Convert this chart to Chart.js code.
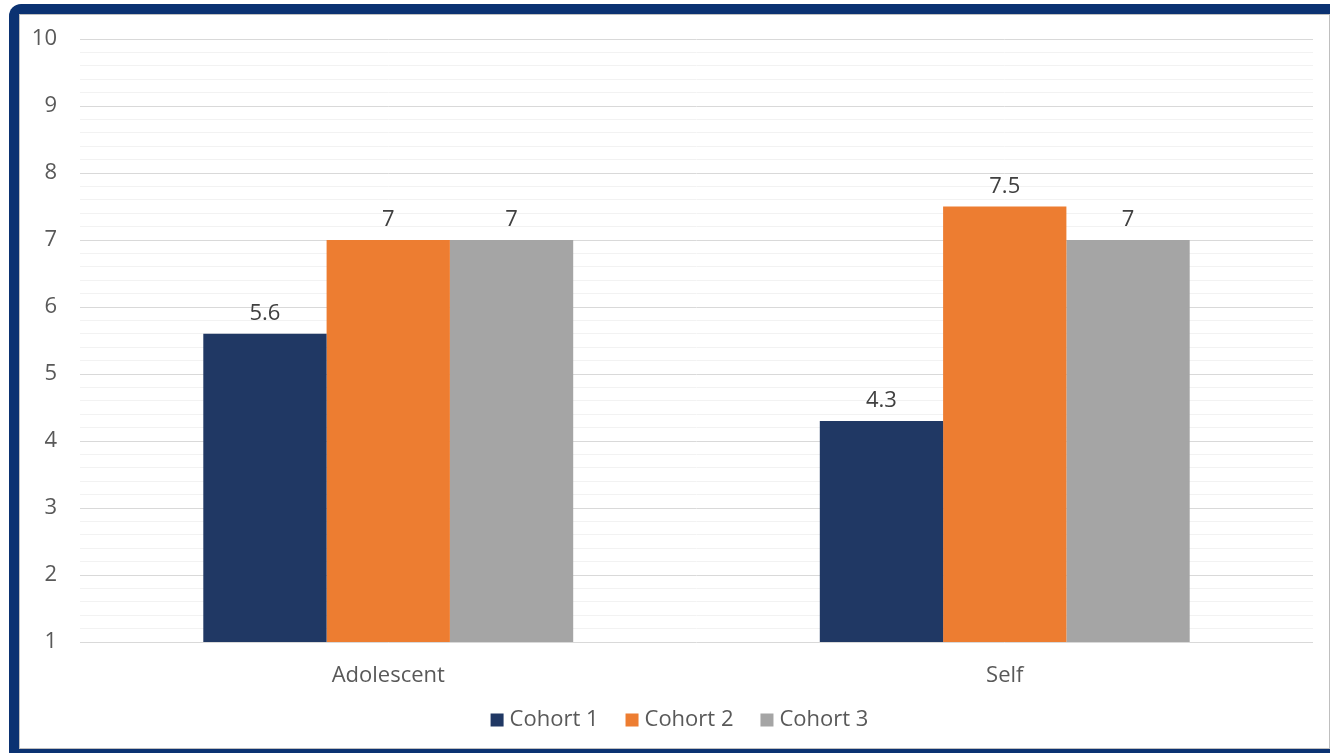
<!DOCTYPE html>
<html>
<head>
<meta charset="utf-8">
<script src="https://cdn.jsdelivr.net/npm/chart.js@4/dist/chart.umd.min.js"></script>
<style>
  html, body { margin: 0; padding: 0; background: #ffffff; width: 1330px; height: 753px; overflow: hidden; }
  #frame { position: absolute; left: 9px; top: 4px; width: 1340px; height: 760px; background: #0b3272; border-radius: 12px; }
  #panel { position: absolute; left: 19px; top: 14px; width: 1309px; height: 733px; background: #ffffff; border: 1px solid #bfbfbf; }
  #wrap { position: absolute; left: 20px; top: 15px; width: 1309px; height: 733px; }
</style>
</head>
<body>
<div id="frame"></div>
<div id="panel"></div>
<div id="wrap"><canvas id="c" width="1309" height="733"></canvas></div>
<script>
const categories = ["Adolescent", "Self"];
const seriesNames = ["Cohort 1", "Cohort 2", "Cohort 3"];
const cohort1 = [5.6, 4.3];
const cohort2 = [7, 7.5];
const cohort3 = [7, 7];
const yTickValues = [1, 2, 3, 4, 5, 6, 7, 8, 9, 10];

const colors = ["#203864", "#ED7D31", "#A5A5A5"];
const FONT = "'Open Sans', 'DejaVu Sans', sans-serif";

const dataLabelPlugin = {
  id: 'dataLabels',
  afterDatasetsDraw(chart) {
    const ctx = chart.ctx;
    ctx.save();
    ctx.font = "22px " + FONT;
    ctx.fillStyle = "#404040";
    ctx.textAlign = "center";
    ctx.textBaseline = "middle";
    chart.data.datasets.forEach((ds, di) => {
      const meta = chart.getDatasetMeta(di);
      meta.data.forEach((bar, i) => {
        ctx.fillText(String(ds.data[i]), bar.x, bar.y - 20);
      });
    });
    ctx.restore();
  }
};

const legendPlugin = {
  id: 'customLegend',
  afterDraw(chart) {
    const ctx = chart.ctx;
    ctx.save();
    ctx.font = "22px " + FONT;
    ctx.textBaseline = "middle";
    ctx.textAlign = "left";
    const box = 13, gap = 6, spacing = 27;
    const items = chart.data.datasets.map(ds => ({ text: ds.label, color: ds.backgroundColor, w: ctx.measureText(ds.label).width }));
    let total = 0;
    items.forEach((it, i) => { total += box + gap + it.w + (i < items.length - 1 ? spacing : 0); });
    let x = chart.width / 2 + 5 - total / 2;
    const y = 705;
    items.forEach(it => {
      ctx.fillStyle = it.color;
      ctx.fillRect(x, y - box / 2, box, box);
      ctx.fillStyle = '#595959';
      ctx.fillText(it.text, x + box + gap, y);
      x += box + gap + it.w + spacing;
    });
    ctx.restore();
  }
};

new Chart(document.getElementById('c'), {
  type: 'bar',
  data: {
    labels: categories,
    datasets: [
      { label: seriesNames[0], data: cohort1, backgroundColor: colors[0] },
      { label: seriesNames[1], data: cohort2, backgroundColor: colors[1] },
      { label: seriesNames[2], data: cohort3, backgroundColor: colors[2] }
    ]
  },
  options: {
    responsive: false,
    animation: false,
    devicePixelRatio: 1,
    layout: { padding: { left: 0, right: 16, top: 24, bottom: 51 } },
    datasets: { bar: { categoryPercentage: 0.6, barPercentage: 1.0 } },
    plugins: {
      legend: { display: false },
      tooltip: { enabled: false }
    },
    scales: {
      x: {
        grid: { display: false },
        border: { display: false },
        afterFit(axis) { axis.height = 55; },
        ticks: { font: { family: FONT, size: 22 }, color: '#595959', padding: 13 }
      },
      y: {
        min: 1,
        max: 10,
        afterFit(axis) { axis.width = 60; axis.paddingTop = 0; axis.paddingBottom = 0; },
        afterBuildTicks(axis) {
          const t = [];
          for (let k = 0; k <= 45; k++) t.push({ value: Math.round((1 + k * 0.2) * 10) / 10 });
          axis.ticks = t;
        },
        border: { display: false },
        grid: {
          drawTicks: false,
          color(ctx) {
            const v = ctx.tick ? ctx.tick.value : null;
            return yTickValues.includes(v) ? '#d9d9d9' : '#f2f2f2';
          },
          lineWidth: 1
        },
        ticks: {
          font: { family: FONT, size: 22 },
          color: '#595959',
          padding: 23,
          autoSkip: false,
          callback(value) { return yTickValues.includes(value) ? String(value) : ''; }
        }
      }
    }
  },
  plugins: [dataLabelPlugin, legendPlugin]
});
</script>
</body>
</html>
